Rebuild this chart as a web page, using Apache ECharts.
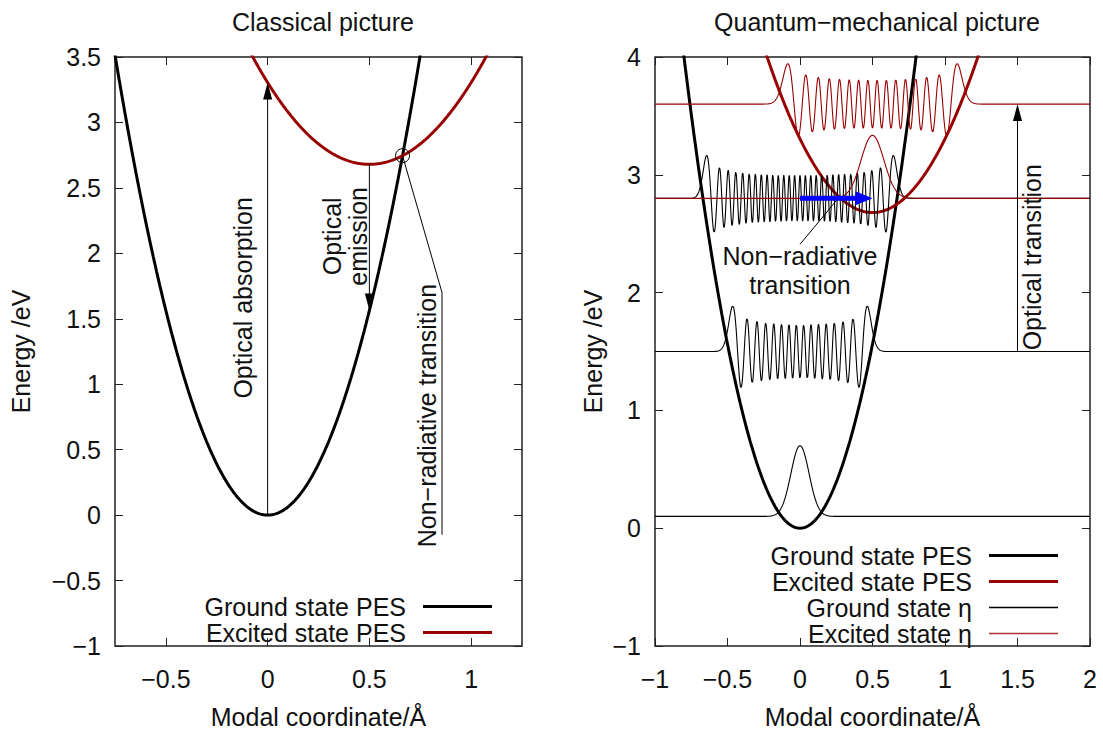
<!DOCTYPE html>
<html>
<head>
<meta charset="utf-8">
<script src="https://cdn.jsdelivr.net/npm/echarts@6/dist/echarts.min.js"></script>
<style>
  html, body { margin: 0; padding: 0; background: #fff; }
  #chart { width: 1103px; height: 734px; }
</style>
</head>
<body>
<div id="chart"></div>
<script>
// Harmonic potential energy surfaces E(q) = min + curvature * (q - centre)^2
const pesNames = ['Ground state PES', 'Excited state PES'];
const pesCentre = [0, 0.5];        // Å
const pesMinimum = [0, 2.68];      // eV
const pesCurvature = [6.25, 2.5];  // eV / Å^2
const pesColors = ['#000000', '#990000'];

// Vibrational wavefunctions drawn on top of their energy levels
const waveNames = ['Ground state \u03b7', 'Excited state \u03b7'];
const groundLevels = [0.1, 1.5, 2.8];   // eV
const groundQuanta = [0, 30, 56];       // vibrational quantum number
const excitedLevels = [2.8, 3.6];       // eV
const excitedQuanta = [0, 30];
const oscillatorLength = [0.0627, 0.0789]; // Å, ground / excited well
const waveAmplitude = 0.6;              // eV drawn for the ground-state n = 0 peak
const waveColors = ['#000000', '#990000'];

// Axis ranges and tick labels
const classicalXRange = [-0.75, 1.25];
const classicalYRange = [-1, 3.5];
const classicalXTicks = [-0.5, 0, 0.5, 1];
const quantumXRange = [-1, 2];
const quantumYRange = [-1, 4];

const FONT = '"Liberation Sans", Arial, Helvetica, sans-serif';
const FS = 25;

function pes(state, q) {
  const d = q - pesCentre[state];
  return pesMinimum[state] + pesCurvature[state] * d * d;
}

function sampleRange(lo, hi, step) {
  const xs = [];
  const n = Math.round((hi - lo) / step);
  for (let i = 0; i <= n; i++) xs.push(lo + (hi - lo) * i / n);
  return xs;
}

// Normalised Hermite function psi_n(xi) by stable upward recursion
function hermiteFunction(n, xi) {
  let p0 = Math.pow(Math.PI, -0.25) * Math.exp(-xi * xi / 2);
  if (n === 0) return p0;
  let p1 = Math.SQRT2 * xi * p0;
  for (let k = 1; k < n; k++) {
    const p2 = Math.sqrt(2 / (k + 1)) * xi * p1 - Math.sqrt(k / (k + 1)) * p0;
    p0 = p1; p1 = p2;
  }
  return p1;
}

function waveCurve(state, level, quanta, xs) {
  const b = oscillatorLength[state];
  const scale = waveAmplitude * Math.sqrt(oscillatorLength[0] / b) / Math.pow(Math.PI, -0.25);
  return xs.map(q => [q, level + scale * hermiteFunction(quanta, (q - pesCentre[state]) / b)]);
}

function minusFmt(v) {
  return v < 0 ? '\u2212' + Math.abs(v) : String(v);
}

// Crossing point of the two surfaces (right-hand root)
function crossing() {
  const a = pesCurvature[0] - pesCurvature[1];
  const bq = 2 * pesCurvature[1] * pesCentre[1];
  const c = -(pesMinimum[1] + pesCurvature[1] * pesCentre[1] * pesCentre[1]);
  const q = (-bq + Math.sqrt(bq * bq - 4 * a * c)) / (2 * a);
  return [q, pes(0, q)];
}

const xsClassical = sampleRange(classicalXRange[0], classicalXRange[1], 0.004);
const xsQuantum = sampleRange(quantumXRange[0], quantumXRange[1], 0.0012);
const cross = crossing();

// Annotations, placed in data coordinates
const classicalNotes = [
  { kind: 'arrow', from: [0, pes(0, 0)], to: [0, pes(1, 0)], color: '#000', width: 1, headLength: 17, headWidth: 9 },
  { kind: 'arrow', from: [pesCentre[1], pesMinimum[1]], to: [pesCentre[1], pes(0, pesCentre[1])], color: '#000', width: 1, headLength: 17, headWidth: 9 },
  { kind: 'ring', at: cross, radius: 7 },
  { kind: 'path', points: [cross, [0.857, 1.70], [0.857, -0.15]] },
  { kind: 'text', at: [-0.12, 1.66], text: 'Optical absorption', rotate: true },
  { kind: 'text', at: [0.38, 2.13], text: 'Optical\nemission', rotate: true },
  { kind: 'text', at: [0.785, 0.76], text: 'Non\u2212radiative transition', rotate: true }
];
const quantumNotes = [
  { kind: 'arrow', from: [1.5, groundLevels[1]], to: [1.5, excitedLevels[1]], color: '#000', width: 1, headLength: 17, headWidth: 9 },
  { kind: 'arrow', from: [0, groundLevels[2]], to: [pesCentre[1], excitedLevels[0]], color: '#0000ff', width: 5, headLength: 17, headWidth: 14 },
  { kind: 'path', points: [[0.0, 2.41], [0.25, 2.78]] },
  { kind: 'text', at: [0.0, 2.31], text: 'Non\u2212radiative', rotate: false },
  { kind: 'text', at: [0.0, 2.065], text: 'transition', rotate: false },
  { kind: 'text', at: [1.6, 2.3], text: 'Optical transition', rotate: true }
];

function notesRenderer(notes) {
  return function (params, api) {
    const n = notes[params.dataIndex];
    if (n.kind === 'arrow') {
      const a = api.coord(n.from), b = api.coord(n.to);
      const dx = b[0] - a[0], dy = b[1] - a[1];
      const len = Math.hypot(dx, dy), ux = dx / len, uy = dy / len;
      const bx = b[0] - ux * n.headLength, by = b[1] - uy * n.headLength;
      return {
        type: 'group', children: [
          { type: 'line', shape: { x1: a[0], y1: a[1], x2: bx + ux * 2, y2: by + uy * 2 },
            style: { stroke: n.color, lineWidth: n.width } },
          { type: 'polygon', shape: { points: [[b[0], b[1]],
              [bx - uy * n.headWidth / 2, by + ux * n.headWidth / 2],
              [bx + uy * n.headWidth / 2, by - ux * n.headWidth / 2]] },
            style: { fill: n.color } }
        ]
      };
    }
    if (n.kind === 'path') {
      return { type: 'polyline', shape: { points: n.points.map(p => api.coord(p)) },
        style: { stroke: '#000', lineWidth: 1, fill: null } };
    }
    if (n.kind === 'ring') {
      const c = api.coord(n.at);
      return { type: 'circle', shape: { cx: c[0], cy: c[1], r: n.radius },
        style: { fill: null, stroke: '#000', lineWidth: 1 } };
    }
    const c = api.coord(n.at);
    return {
      type: 'text', x: c[0], y: c[1], rotation: n.rotate ? Math.PI / 2 : 0,
      style: { text: n.text, fill: '#111', font: FS + 'px ' + FONT,
        align: 'center', verticalAlign: 'middle', lineHeight: 26 }
    };
  };
}

function lineSeries(name, data, xi, yi, color, width) {
  return {
    type: 'line', name: name, data: data, xAxisIndex: xi, yAxisIndex: yi,
    showSymbol: false, symbol: 'none', smooth: false, animation: false,
    color: color,
    lineStyle: { color: color, width: width }, itemStyle: { color: color },
    emphasis: { disabled: true }, z: 2
  };
}

const series = [];
// Classical panel
for (let s = 0; s < 2; s++) {
  series.push(lineSeries(pesNames[s], xsClassical.map(q => [q, pes(s, q)]), 0, 0, pesColors[s], 3));
}
series.push({
  type: 'custom', xAxisIndex: 0, yAxisIndex: 0, animation: false, z: 5,
  renderItem: notesRenderer(classicalNotes),
  data: classicalNotes.map(n => n.at || n.from || n.points[0]),
  encode: { x: 0, y: 1 }, silent: true
});
// Quantum panel
const xsQPes = sampleRange(quantumXRange[0], quantumXRange[1], 0.004);
for (let s = 0; s < 2; s++) {
  series.push(lineSeries(pesNames[s], xsQPes.map(q => [q, pes(s, q)]), 2, 2, pesColors[s], 3));
}
groundLevels.forEach((lv, i) => {
  series.push(lineSeries(waveNames[0], waveCurve(0, lv, groundQuanta[i], xsQuantum), 2, 2, waveColors[0], 1.1));
});
excitedLevels.forEach((lv, i) => {
  series.push(lineSeries(waveNames[1], waveCurve(1, lv, excitedQuanta[i], xsQuantum), 2, 2, waveColors[1], 1.1));
});
series.push({
  type: 'custom', xAxisIndex: 2, yAxisIndex: 2, animation: false, z: 5,
  renderItem: notesRenderer(quantumNotes),
  data: quantumNotes.map(n => n.at || n.from || n.points[0]),
  encode: { x: 0, y: 1 }, silent: true
});

const tickStyle = { inside: true, length: 8, lineStyle: { color: '#222', width: 1 } };
const labelStyle = { color: '#111', fontSize: FS, fontFamily: FONT, formatter: minusFmt };
const nameStyle = { color: '#111', fontSize: FS, fontFamily: FONT };
const hiddenLine = { show: false, onZero: false };

function xAxes(grid, range, ticks, interval) {
  const tick = Object.assign({}, tickStyle, ticks ? { customValues: ticks } : {});
  return [
    { type: 'value', gridIndex: grid, position: 'bottom', min: range[0], max: range[1], interval: interval,
      axisLine: hiddenLine, splitLine: { show: false }, axisTick: tick,
      axisLabel: Object.assign({ margin: 20 }, labelStyle, ticks ? { customValues: ticks } : {}),
      name: 'Modal coordinate/\u00c5', nameLocation: 'middle', nameGap: 58, nameTextStyle: nameStyle },
    { type: 'value', gridIndex: grid, position: 'top', min: range[0], max: range[1], interval: interval,
      axisLine: hiddenLine, splitLine: { show: false }, axisTick: tick, axisLabel: { show: false } }
  ];
}
function yAxes(grid, range, interval, gap) {
  return [
    { type: 'value', gridIndex: grid, position: 'left', min: range[0], max: range[1], interval: interval,
      axisLine: hiddenLine, splitLine: { show: false }, axisTick: tickStyle,
      axisLabel: Object.assign({ margin: 14 }, labelStyle),
      name: 'Energy /eV', nameLocation: 'middle', nameRotate: 90, nameGap: gap, nameTextStyle: nameStyle },
    { type: 'value', gridIndex: grid, position: 'right', min: range[0], max: range[1], interval: interval,
      axisLine: hiddenLine, splitLine: { show: false }, axisTick: tickStyle, axisLabel: { show: false } }
  ];
}

// One legend block per key entry so that every sample line ends at the same x
function legendItem(name, color, right, top, thickness) {
  return {
    data: [{ name: name, icon: 'rect', itemStyle: { color: color, borderWidth: 0 } }],
    right: right, top: top, orient: 'vertical', align: 'right', padding: 0,
    itemWidth: 69, itemHeight: thickness, selectedMode: false,
    textStyle: { color: '#111', fontSize: FS, fontFamily: FONT, padding: [0, 12, 0, 0] }
  };
}

const option = {
  backgroundColor: '#fff',
  animation: false,
  title: [
    { text: 'Classical picture', left: 318, top: 4, textAlign: 'center',
      textStyle: { color: '#111', fontSize: FS, fontWeight: 'normal', fontFamily: FONT } },
    { text: 'Quantum\u2212mechanical picture', left: 872, top: 4, textAlign: 'center',
      textStyle: { color: '#111', fontSize: FS, fontWeight: 'normal', fontFamily: FONT } }
  ],
  grid: [
    { left: 115, right: 1103 - 522, top: 57, bottom: 734 - 653, show: true,
      borderColor: '#222', borderWidth: 1.5, backgroundColor: 'transparent' },
    { left: 655, right: 1103 - 1090, top: 57, bottom: 734 - 653, show: true,
      borderColor: '#222', borderWidth: 1.5, backgroundColor: 'transparent' }
  ],
  xAxis: [].concat(xAxes(0, classicalXRange, classicalXTicks, 0.5), xAxes(1, quantumXRange, null, 0.5)),
  yAxis: [].concat(yAxes(0, classicalYRange, 0.5, 82), yAxes(1, quantumYRange, 1, 50)),
  legend: [
    legendItem(pesNames[0], pesColors[0], 611, 594, 3),
    legendItem(pesNames[1], pesColors[1], 611, 620, 3),
    legendItem(pesNames[0], pesColors[0], 45, 543, 3),
    legendItem(pesNames[1], pesColors[1], 45, 569, 3),
    legendItem(waveNames[0], waveColors[0], 45, 595, 1.3),
    legendItem(waveNames[1], '#b03030', 45, 621, 1.3)
  ],
  series: series
};

const chart = echarts.init(document.getElementById('chart'), null, { renderer: 'svg' });
chart.setOption(option);
</script>
</body>
</html>
